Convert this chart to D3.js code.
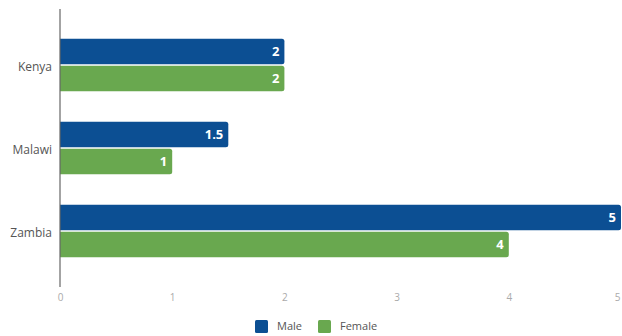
<!DOCTYPE html>
<html>
<head>
<meta charset="utf-8">
<script src="https://cdn.jsdelivr.net/npm/d3@7"></script>
<style>
  html, body { margin: 0; padding: 0; background: #fff; }
  svg { display: block; font-family: "Open Sans", "Noto Sans", sans-serif; }
</style>
</head>
<body>
<svg id="chart" width="622" height="336"></svg>
<script>
const countries = ["Kenya", "Malawi", "Zambia"];
const seriesNames = ["Male", "Female"];
const maleValues = [2, 1.5, 5];
const femaleValues = [2, 1, 4];
const xTicks = [0, 1, 2, 3, 4, 5];
const colors = ["#0c4f93", "#69a84f"];

const svg = d3.select("#chart");
const plotLeft = 60, plotRight = 621, plotTop = 9, plotBottom = 287;

const x = d3.scaleLinear().domain([0, 5]).range([plotLeft, plotRight]);
const y = d3.scaleBand().domain(countries).range([plotTop, plotBottom])
  .paddingInner(0.37).paddingOuter(0.36);
const ySub = d3.scaleBand().domain(seriesNames).range([0, y.bandwidth()])
  .paddingInner(0.05);

const rows = countries.map((c, i) => ({
  country: c,
  values: [
    { series: "Male", value: maleValues[i] },
    { series: "Female", value: femaleValues[i] }
  ]
}));

// bars, squared off at the baseline and slightly rounded at the end
function barPath(x0, x1, y0, h, r) {
  const p = d3.path();
  p.moveTo(x0, y0);
  p.lineTo(x1 - r, y0);
  p.quadraticCurveTo(x1, y0, x1, y0 + r);
  p.lineTo(x1, y0 + h - r);
  p.quadraticCurveTo(x1, y0 + h, x1 - r, y0 + h);
  p.lineTo(x0, y0 + h);
  p.closePath();
  return p.toString();
}

const groups = svg.append("g").selectAll("g").data(rows).join("g")
  .attr("transform", d => `translate(0,${y(d.country)})`);

groups.selectAll("path").data(d => d.values).join("path")
  .attr("d", d => barPath(x(0), x(d.value), ySub(d.series), ySub.bandwidth(), 2.5))
  .attr("fill", (d, i) => colors[i]);

groups.selectAll("text").data(d => d.values).join("text")
  .attr("x", d => x(d.value) - 5)
  .attr("y", d => ySub(d.series) + ySub.bandwidth() / 2)
  .attr("dy", "0.36em")
  .attr("text-anchor", "end")
  .attr("fill", "#fff")
  .attr("font-size", 13)
  .attr("font-weight", "bold")
  .text(d => d.value);

// category axis
const yAxis = svg.append("g").attr("transform", `translate(${plotLeft},0)`)
  .call(d3.axisLeft(y).tickSize(0).tickPadding(8));
yAxis.select(".domain").remove();
yAxis.selectAll("text").attr("font-size", 12).attr("fill", "#555")
  .attr("dy", "0.5em")
  .attr("font-family", "Open Sans, sans-serif");

svg.append("line")
  .attr("x1", plotLeft).attr("x2", plotLeft).attr("y1", plotTop).attr("y2", plotBottom)
  .attr("stroke", "#666").attr("stroke-width", 1.2);

// value axis labels; the last one is kept inside the right edge
const xAxis = svg.append("g").attr("transform", `translate(0,${plotBottom})`)
  .call(d3.axisBottom(x).tickValues(xTicks).tickSize(0).tickPadding(7).tickFormat(d3.format("d")));
xAxis.select(".domain").remove();
xAxis.selectAll("text").attr("font-size", 10).attr("fill", "#aaa")
  .attr("font-family", "Open Sans, sans-serif")
  .filter(d => d === xTicks[xTicks.length - 1])
  .attr("text-anchor", "end").attr("dx", "-0.1em");

// legend
const legendX = [255, 318];
const legend = svg.append("g").selectAll("g").data(seriesNames).join("g")
  .attr("transform", (d, i) => `translate(${legendX[i]},320)`);
legend.append("rect").attr("width", 13).attr("height", 13).attr("rx", 1.5)
  .attr("fill", (d, i) => colors[i]);
legend.append("text").attr("x", 22).attr("y", 6.5).attr("dy", "0.36em")
  .attr("font-size", 11).attr("fill", "#555").text(d => d);
</script>
</body>
</html>
